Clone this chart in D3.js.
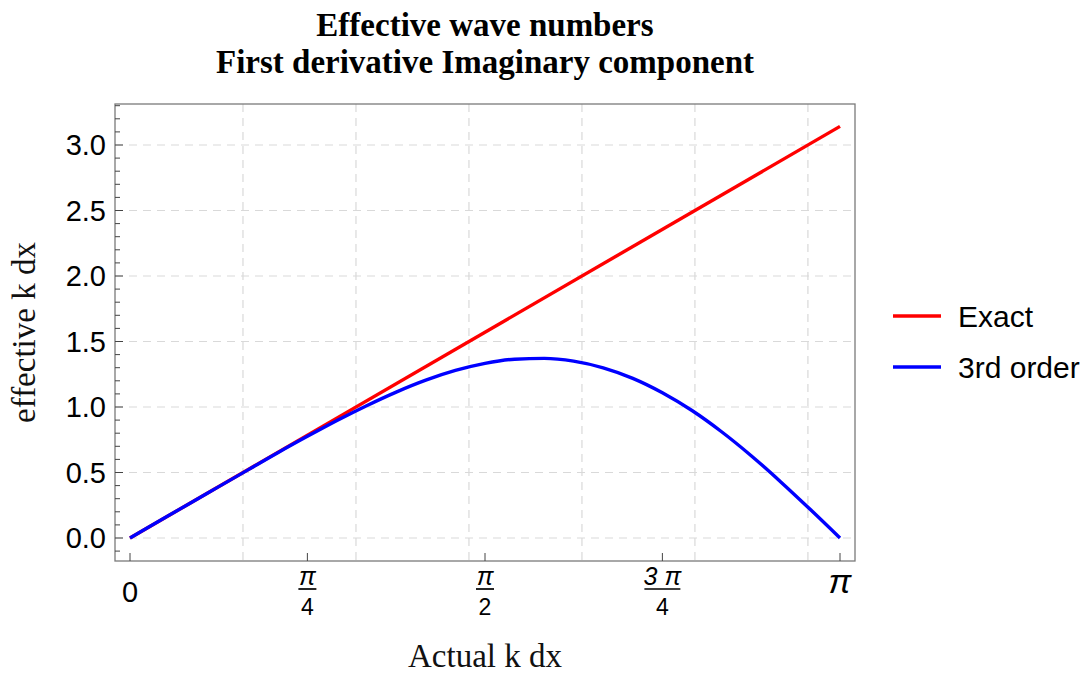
<!DOCTYPE html>
<html>
<head>
<meta charset="utf-8">
<script src="https://cdn.jsdelivr.net/npm/d3@7"></script>
<style>
  html, body { margin: 0; padding: 0; background: #fff; }
  svg { display: block; }
</style>
</head>
<body>
<div id="chart"></div>
<script>
// data
const kdx = [0, 0.131, 0.262, 0.393, 0.524, 0.654, 0.785, 0.916, 1.047, 1.178, 1.309, 1.440,
  1.571, 1.702, 1.833, 1.963, 2.094, 2.225, 2.356, 2.487, 2.618, 2.749, 2.880, 3.011, 3.142];
const thirdOrder = [0, 0.131, 0.262, 0.392, 0.522, 0.651, 0.776, 0.897, 1.010, 1.114, 1.205, 1.279,
  1.333, 1.365, 1.371, 1.350, 1.299, 1.219, 1.109, 0.973, 0.811, 0.628, 0.428, 0.217, 0];
const exactX = [0, 3.142];
const exactY = [0, 3.142];

const yTicks = [0, 0.5, 1.0, 1.5, 2.0, 2.5, 3.0];
const yMinorTicks = d3.range(-1, 34).map((i) => i / 10);
const xTicks = [
  { value: 0, num: "0", den: null },
  { value: 0.785, num: "π", den: "4" },
  { value: 1.571, num: "π", den: "2" },
  { value: 2.356, num: "3 π", den: "4" },
  { value: 3.142, num: "π", den: null },
];
const xGrid = [0.5, 1.0, 1.5, 2.0, 2.5, 3.0];

const seriesNames = ["Exact", "3rd order"];
const seriesColors = ["#ff0000", "#0000ff"];

const titleLines = ["Effective wave numbers", "First derivative Imaginary component"];
const xLabel = "Actual k dx";
const yLabel = "effective k dx";

const width = 1084;
const height = 674;
const frame = { left: 115, right: 855, top: 104, bottom: 561 };

const sans = "Liberation Sans, Arial, sans-serif";
const serif = "Liberation Serif, Times New Roman, serif";

const x = d3.scaleLinear().domain([0, 3.142]).range([130, 840]);
const y = d3.scaleLinear().domain([0, 3.0]).range([538, 145]);

const svg = d3.select("#chart")
  .append("svg")
  .attr("width", width)
  .attr("height", height);

// grid
const grid = svg.append("g")
  .attr("stroke", "#d9d9d9")
  .attr("stroke-width", 1.2)
  .attr("stroke-dasharray", "8,6");

grid.selectAll("line.gy")
  .data(yTicks)
  .enter()
  .append("line")
  .attr("x1", frame.left)
  .attr("x2", frame.right)
  .attr("y1", (d) => y(d))
  .attr("y2", (d) => y(d));

grid.selectAll("line.gx")
  .data(xGrid)
  .enter()
  .append("line")
  .attr("x1", (d) => x(d))
  .attr("x2", (d) => x(d))
  .attr("y1", frame.top)
  .attr("y2", frame.bottom);

// frame
svg.append("rect")
  .attr("x", frame.left)
  .attr("y", frame.top)
  .attr("width", frame.right - frame.left)
  .attr("height", frame.bottom - frame.top)
  .attr("fill", "none")
  .attr("stroke", "#7a7a7a")
  .attr("stroke-width", 1.3);

// left axis ticks (inward)
svg.append("g")
  .selectAll("line")
  .data(yMinorTicks)
  .enter()
  .append("line")
  .attr("x1", frame.left)
  .attr("x2", (d) => frame.left + (Math.round(d * 10) % 5 === 0 ? 8 : 5))
  .attr("y1", (d) => y(d))
  .attr("y2", (d) => y(d))
  .attr("stroke", "#444")
  .attr("stroke-width", 1);

svg.append("g")
  .selectAll("text")
  .data(yTicks)
  .enter()
  .append("text")
  .attr("x", frame.left - 9)
  .attr("y", (d) => y(d))
  .attr("dy", "0.36em")
  .attr("text-anchor", "end")
  .attr("font-family", sans)
  .attr("font-size", 29)
  .attr("fill", "#000")
  .text((d) => d.toFixed(1));

// bottom axis ticks
svg.append("g")
  .selectAll("line")
  .data(xTicks)
  .enter()
  .append("line")
  .attr("x1", (d) => x(d.value))
  .attr("x2", (d) => x(d.value))
  .attr("y1", frame.bottom)
  .attr("y2", frame.bottom - 8)
  .attr("stroke", "#444")
  .attr("stroke-width", 1);

const xLab = svg.append("g")
  .selectAll("g")
  .data(xTicks)
  .enter()
  .append("g")
  .attr("transform", (d) => `translate(${x(d.value)}, 0)`)
  .attr("font-family", sans)
  .attr("fill", "#000");

xLab.filter((d) => !d.den)
  .append("text")
  .attr("y", (d) => (d.value === 0 ? 602 : 593))
  .attr("text-anchor", "middle")
  .attr("font-size", (d) => (d.value === 0 ? 29 : 34))
  .attr("font-style", (d) => (d.value === 0 ? "normal" : "italic"))
  .text((d) => d.num);

const frac = xLab.filter((d) => d.den);
frac.append("text")
  .attr("y", 585)
  .attr("text-anchor", "middle")
  .attr("font-size", 25)
  .attr("font-style", "italic")
  .text((d) => d.num);
frac.append("line")
  .attr("x1", (d) => (d.num.length > 1 ? -18 : -9))
  .attr("x2", (d) => (d.num.length > 1 ? 18 : 9))
  .attr("y1", 589)
  .attr("y2", 589)
  .attr("stroke", "#000")
  .attr("stroke-width", 1.7);
frac.append("text")
  .attr("y", 615)
  .attr("text-anchor", "middle")
  .attr("font-size", 23)
  .text((d) => d.den);

// series
const line = d3.line()
  .x((d) => x(d[0]))
  .y((d) => y(d[1]))
  .curve(d3.curveMonotoneX);

const series = [
  d3.zip(exactX, exactY),
  d3.zip(kdx, thirdOrder),
];

svg.append("g")
  .selectAll("path")
  .data(series)
  .enter()
  .append("path")
  .attr("d", line)
  .attr("fill", "none")
  .attr("stroke", (d, i) => seriesColors[i])
  .attr("stroke-width", 3.4)
  .attr("stroke-linejoin", "round");

// titles
svg.append("g")
  .selectAll("text")
  .data(titleLines)
  .enter()
  .append("text")
  .attr("x", (frame.left + frame.right) / 2)
  .attr("y", (d, i) => 36 + i * 37)
  .attr("text-anchor", "middle")
  .attr("font-family", serif)
  .attr("font-weight", "bold")
  .attr("font-size", 33)
  .attr("fill", "#000")
  .text((d) => d);

svg.append("text")
  .attr("x", (frame.left + frame.right) / 2)
  .attr("y", 667)
  .attr("text-anchor", "middle")
  .attr("font-family", serif)
  .attr("font-size", 33)
  .attr("fill", "#111")
  .text(xLabel);

svg.append("text")
  .attr("transform", `translate(35, ${(frame.top + frame.bottom) / 2}) rotate(-90)`)
  .attr("text-anchor", "middle")
  .attr("font-family", serif)
  .attr("font-size", 33)
  .attr("fill", "#111")
  .text(yLabel);

// legend
const legend = svg.append("g")
  .selectAll("g")
  .data(seriesNames)
  .enter()
  .append("g")
  .attr("transform", (d, i) => `translate(893, ${316 + i * 51})`);

legend.append("line")
  .attr("x1", 0)
  .attr("x2", 48)
  .attr("stroke", (d, i) => seriesColors[i])
  .attr("stroke-width", 3.4);

legend.append("text")
  .attr("x", 65)
  .attr("dy", "0.36em")
  .attr("font-family", sans)
  .attr("font-size", 30)
  .attr("fill", "#000")
  .text((d) => d);
</script>
</body>
</html>
